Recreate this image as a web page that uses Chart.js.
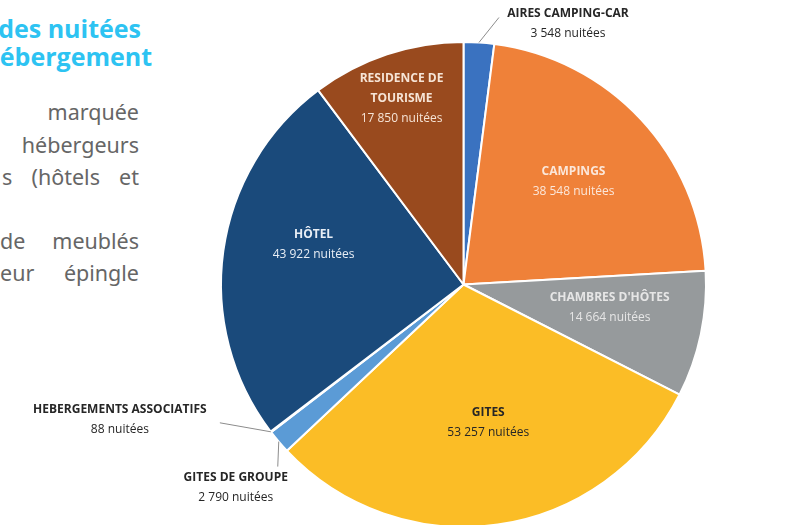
<!DOCTYPE html>
<html lang="fr">
<head>
<meta charset="utf-8">
<script src="https://cdn.jsdelivr.net/npm/chart.js@4"></script>
<style>
  html, body { margin: 0; padding: 0; overflow: hidden; background: #fff; }
  body { width: 801px; height: 525px; position: relative; }
  #wrap { position: absolute; left: 0; top: 0; width: 801px; height: 528px; }
  .titre { position: absolute; font-family: "Open Sans", sans-serif; font-weight: 700; font-size: 25px;
           color: #2dc3f2; white-space: nowrap; text-align: right; }
  .para { position: absolute; right: 662px; font-family: "Noto Sans", sans-serif; font-size: 21.5px;
          color: #666; white-space: nowrap; text-align: right; }
  .just { left: 0; width: 139px; right: auto; text-align: justify; text-align-last: justify; }
</style>
</head>
<body>
<div class="titre" style="right:660px; top:11px;">des nuitées</div>
<div class="titre" style="right:649px; top:39px;">hébergement</div>
<div class="para" style="top:97px;">marquée</div>
<div class="para" style="top:130px;">hébergeurs</div>
<div class="para just" style="top:162px; left:2px; width:137px;">s (hôtels et</div>
<div class="para just" style="top:226px;">de meublés</div>
<div class="para just" style="top:258px;">eur épingle</div>
<div id="wrap"><canvas id="chart"></canvas></div>
<script>
const ctx = document.getElementById('chart');

const categories = ["AIRES CAMPING-CAR", "CAMPINGS", "CHAMBRES D'HÔTES", "GITES", "GITES DE GROUPE",
                    "HEBERGEMENTS ASSOCIATIFS", "HÔTEL", "RESIDENCE DE TOURISME"];
const nuitees = [3548, 38548, 14664, 53257, 2790, 88, 43922, 17850];
const valueLabels = ["3 548 nuitées", "38 548 nuitées", "14 664 nuitées", "53 257 nuitées", "2 790 nuitées",
                     "88 nuitées", "43 922 nuitées", "17 850 nuitées"];

const sliceColors = ['#3a72c0', '#ef8139', '#969a9c', '#fbbd26', '#5b9bd6', '#a5a5a5', '#1a4a7b', '#994a1e'];

// placement des étiquettes (style, pas des données)
const labelStyle = [
  { outside: true, line: [20, -25], text: [89, -29], lines: ["AIRES CAMPING-CAR"] },
  { r: 0.62, color: '#fbe7da', lines: ["CAMPINGS"] },
  { r: 0.61, da: -3, color: '#e6e6e6', lines: ["CHAMBRES D'HÔTES"] },
  { r: 0.58, da: -2, color: '#262626', lines: ["GITES"] },
  { outside: true, line: [-1, 25], text: [-43, 36], lines: ["GITES DE GROUPE"] },
  { outside: true, line: [-51, -9], text: [-151, -22], lines: ["HEBERGEMENTS ASSOCIATIFS"] },
  { r: 0.64, da: 7, color: '#e8eef5', lines: ["HÔTEL"] },
  { r: 0.81, color: '#f6e4d6', lines: ["RESIDENCE DE", "TOURISME"] }
];

const labelPlugin = {
  id: 'pieLabels',
  afterDatasetsDraw(chart) {
    const c = chart.ctx;
    const meta = chart.getDatasetMeta(0);
    meta.data.forEach((arc, i) => {
      const st = labelStyle[i];
      const p = arc.getProps(['x', 'y', 'startAngle', 'endAngle', 'outerRadius'], true);
      const mid = (p.startAngle + p.endAngle) / 2;
      let lines = st.lines.concat([valueLabels[i]]);
      let cx, cy, color;
      c.save();
      if (st.outside) {
        const ax = p.x + Math.cos(mid) * p.outerRadius;
        const ay = p.y + Math.sin(mid) * p.outerRadius;
        c.strokeStyle = '#8c8c8c';
        c.lineWidth = 1;
        c.beginPath();
        c.moveTo(ax, ay);
        c.lineTo(ax + st.line[0], ay + st.line[1]);
        c.stroke();
        cx = ax + st.text[0];
        cy = ay + st.text[1];
        color = '#262626';
      } else {
        const a = mid + (st.da || 0) * Math.PI / 180;
        const rr = st.r * p.outerRadius;
        cx = p.x + Math.cos(a) * rr;
        cy = p.y + Math.sin(a) * rr - (lines.length - 1) * 10;
        color = st.color;
      }
      c.fillStyle = color;
      c.textAlign = 'center';
      c.textBaseline = 'middle';
      lines.forEach((t, k) => {
        const last = k == lines.length - 1;
        c.font = (last ? '400 ' : '700 ') + '12px "Open Sans", sans-serif';
        c.fillText(t, cx, cy + k * 20);
      });
      c.restore();
    });
  }
};

new Chart(ctx, {
  type: 'pie',
  data: {
    labels: categories,
    datasets: [{
      data: nuitees,
      backgroundColor: sliceColors,
      borderColor: '#ffffff',
      borderWidth: 2
    }]
  },
  options: {
    responsive: true,
    maintainAspectRatio: false,
    animation: false,
    layout: { padding: { left: 220, right: 94, top: 41, bottom: 0 } },
    plugins: {
      legend: { display: false },
      tooltip: { enabled: false }
    }
  },
  plugins: [labelPlugin]
});
</script>
</body>
</html>
